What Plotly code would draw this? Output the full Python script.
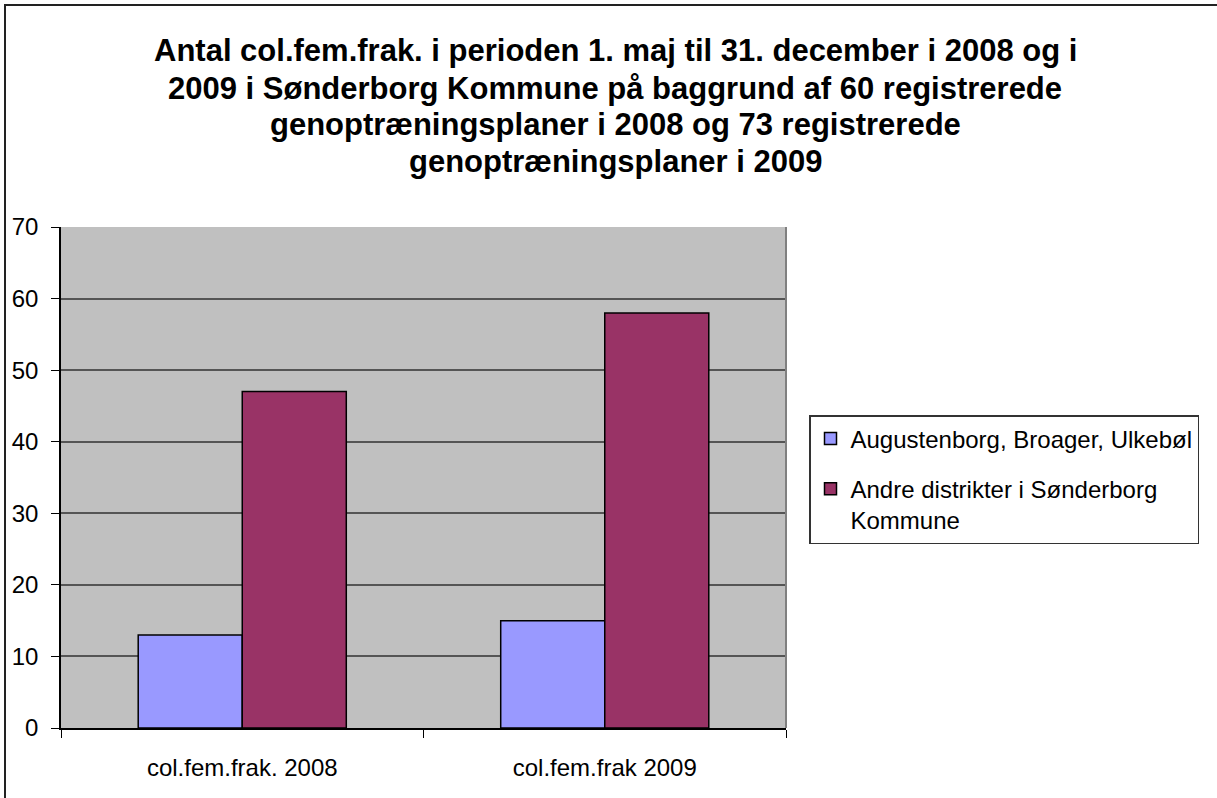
import plotly.graph_objects as go

categories = ["col.fem.frak. 2008", "col.fem.frak 2009"]
series_names = ["Augustenborg, Broager, Ulkebøl", "Andre distrikter i Sønderborg<br>Kommune"]
values_aug = [13, 15]
values_andre = [47, 58]
y_ticks = [0, 10, 20, 30, 40, 50, 60, 70]
title_lines = [
    "Antal col.fem.frak. i perioden 1. maj til 31. december i 2008 og i",
    "2009 i Sønderborg Kommune på baggrund af 60 registrerede",
    "genoptræningsplaner i 2008 og 73 registrerede",
    "genoptræningsplaner i 2009",
]

W, H = 1217, 798
L, R, T, B = 61, 786, 227, 728
pw, ph = R - L, B - T

def px_x(x):
    return (x - L) / pw

def px_y(y):
    return (B - y) / ph

FONT = "Liberation Sans, Arial, sans-serif"

fig = go.Figure()
fig.add_trace(go.Bar(
    x=categories, y=values_aug, name=series_names[0], legendgroup="a",
    marker=dict(color="#9999FF", line=dict(color="black", width=1.5)),
))
fig.add_trace(go.Bar(
    x=categories, y=values_andre, name=series_names[1], legendgroup="b",
    marker=dict(color="#993366", line=dict(color="black", width=1.5)),
))

annotations = []
for line, yc in zip(title_lines, [50, 88, 125, 162]):
    annotations.append(dict(
        text="<b>" + line + "</b>", x=px_x(615), y=px_y(yc), xref="paper", yref="paper",
        xanchor="center", yanchor="middle", showarrow=False,
        font=dict(family=FONT, size=31, color="black"),
    ))

shapes = [
    # outer chart border (cut off at right and bottom)
    dict(type="rect", xref="paper", yref="paper",
         x0=px_x(5), x1=px_x(1230), y0=px_y(5), y1=px_y(810),
         line=dict(color="#222222", width=2), fillcolor="rgba(0,0,0,0)", layer="below"),
    # right plot-area border
    dict(type="line", xref="paper", yref="paper", x0=1, x1=1, y0=0, y1=1,
         line=dict(color="#808080", width=2), layer="above"),
]

fig.update_layout(
    width=W, height=H,
    margin=dict(l=L, r=W - R, t=T, b=H - B, autoexpand=False),
    paper_bgcolor="white", plot_bgcolor="#C0C0C0",
    barmode="group", bargap=0.426, bargroupgap=0,
    font=dict(family=FONT, size=23, color="black"),
    showlegend=True,
    legend=dict(
        x=px_x(809), y=px_y(415), xanchor="left", yanchor="top",
        bgcolor="white", bordercolor="#333333", borderwidth=1.5,
        font=dict(family=FONT, size=24, color="black"),
        traceorder="grouped", tracegroupgap=16, valign="top",
        itemwidth=30,
    ),
    annotations=annotations,
    shapes=shapes,
)
fig.update_xaxes(
    showgrid=False, showline=True, linecolor="black", linewidth=1.5,
    ticks="outside", tickson="boundaries", ticklen=8, tickcolor="black", tickwidth=1,
    tickfont=dict(family=FONT, size=24, color="black"), ticklabelstandoff=17,
)
fig.update_yaxes(
    range=[0, 70], tickvals=y_ticks, showgrid=True, gridcolor="#555555", gridwidth=1.5,
    showline=True, linecolor="black", linewidth=1.5, zeroline=False,
    ticks="outside", ticklen=8, tickcolor="black", tickwidth=1,
    tickfont=dict(family=FONT, size=24, color="black"), ticklabelstandoff=8,
)

fig.write_html("out.html", config={"displayModeBar": False},
               post_script="document.body.style.margin='0';")
